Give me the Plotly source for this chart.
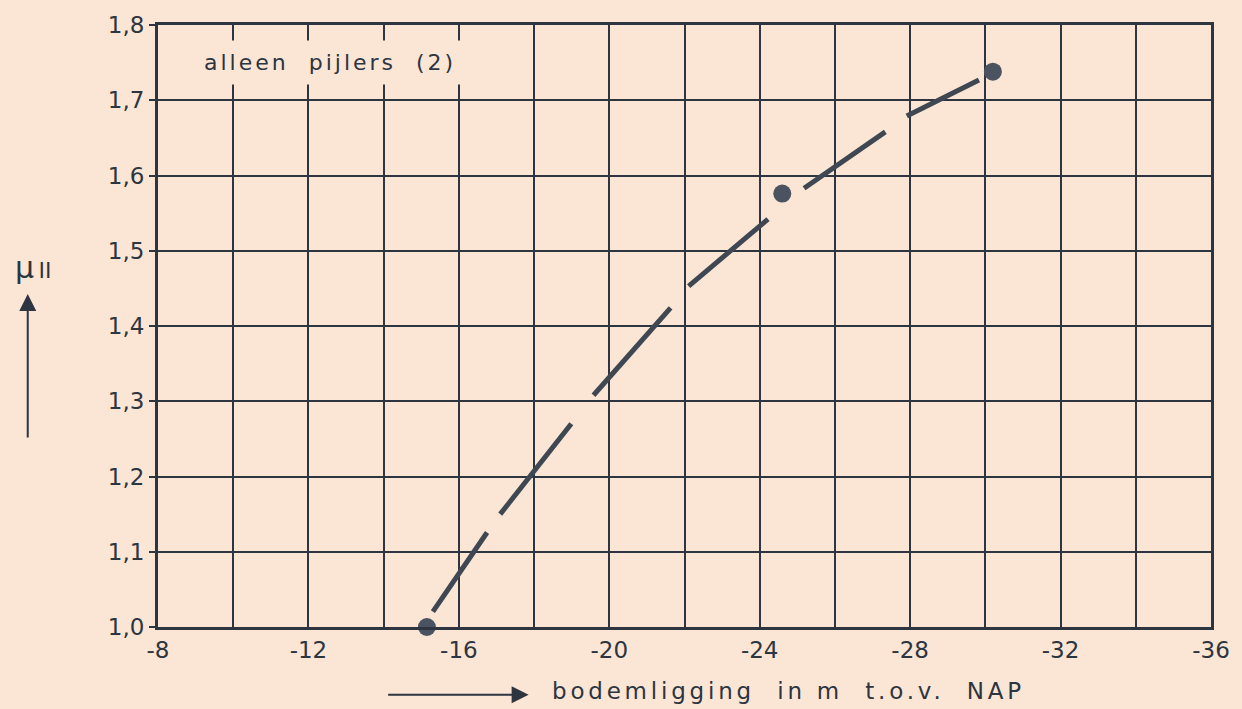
import plotly.graph_objects as go

# Measured points: bottom level (m w.r.t. NAP) vs. mu_II
depth = [-15.15, -24.6, -30.2]
mu = [1.0, 1.576, 1.738]

# Hand-drawn dashed curve through the points, one dash per pair (None = gap)
curve_x = [-15.31, -16.75, None, -17.10, -18.99, None, -19.58, -21.63, None,
           -22.11, -24.22, None, -25.18, -27.34, None, -27.91, -29.83]
curve_y = [1.0205, 1.1256, None, 1.150, 1.270, None, 1.308, 1.424, None,
           1.453, 1.542, None, 1.583, 1.658, None, 1.679, 1.727]

x_ticks = [-8, -12, -16, -20, -24, -28, -32, -36]
x_labels = ["-8", "-12", "-16", "-20", "-24", "-28", "-32", "-36"]
y_ticks = [1.0, 1.1, 1.2, 1.3, 1.4, 1.5, 1.6, 1.7, 1.8]
y_labels = ["1,0", "1,1", "1,2", "1,3", "1,4", "1,5", "1,6", "1,7", "1,8"]

PAPER = "#fbe6d6"
INK = "#2c3540"
FONT = "DejaVu Sans"


def spaced(text, px):
    return f"<span style='letter-spacing:{px}px'>{text}</span>"


fig = go.Figure()
fig.add_trace(go.Scatter(
    x=curve_x, y=curve_y, mode="lines", connectgaps=False,
    line=dict(color="#3e4752", width=5), hoverinfo="skip", showlegend=False))
fig.add_trace(go.Scatter(
    x=depth, y=mu, mode="markers",
    marker=dict(color="#4a535f", size=18, line=dict(width=0)),
    showlegend=False, cliponaxis=False))

axis_common = dict(
    showline=True, mirror=True, linecolor=INK, linewidth=3,
    showgrid=True, gridcolor=INK, gridwidth=2, zeroline=False,
    tickfont=dict(family=FONT, size=23, color=INK),
)
fig.update_xaxes(
    range=[-8, -36], tickmode="array", tickvals=x_ticks, ticktext=x_labels,
    ticks="", minor=dict(dtick=2, tick0=-8, showgrid=True, gridcolor=INK, gridwidth=2),
    **axis_common)
fig.update_yaxes(
    range=[1.0, 1.8], tickmode="array", tickvals=y_ticks, ticktext=y_labels,
    ticks="outside", ticklen=6, tickwidth=2, tickcolor=INK,
    **axis_common)

fig.add_annotation(
    x=0.163, y=0.937, xref="paper", yref="paper", showarrow=False,
    xanchor="center", yanchor="middle",
    text=spaced("alleen  pijlers  (2)", 3), bgcolor=PAPER, borderpad=9,
    font=dict(family=FONT, size=22, color=INK))

# y-axis quantity with upward arrow
fig.add_annotation(
    x=-0.116, y=0.598, xref="paper", yref="paper", showarrow=False,
    xanchor="center", yanchor="middle",
    text="μ<span style='font-family:Noto Sans CJK SC;font-size:22px'>Ⅱ</span>",
    font=dict(family=FONT, size=30, color=INK))
fig.add_annotation(
    x=-0.1237, y=0.553, xref="paper", yref="paper", text="",
    showarrow=True, ax=0, ay=145, arrowhead=2, arrowsize=1.7,
    arrowwidth=2, arrowcolor=INK)

# x-axis quantity with arrow pointing right
fig.add_annotation(
    x=0.352, y=-0.1125, xref="paper", yref="paper", text="",
    showarrow=True, ax=-142, ay=0, arrowhead=2, arrowsize=1.7,
    arrowwidth=2, arrowcolor=INK)
fig.add_annotation(
    x=0.372, y=-0.106, xref="paper", yref="paper", showarrow=False,
    xanchor="left", yanchor="middle",
    text=spaced("bodemligging  in m  t.o.v.  NAP", 3.8),
    font=dict(family=FONT, size=23, color=INK))

fig.update_layout(
    width=1242, height=709,
    margin=dict(l=158, r=21, t=18, b=82),
    paper_bgcolor=PAPER, plot_bgcolor=PAPER,
    showlegend=False,
)

fig.write_html("out.html")
